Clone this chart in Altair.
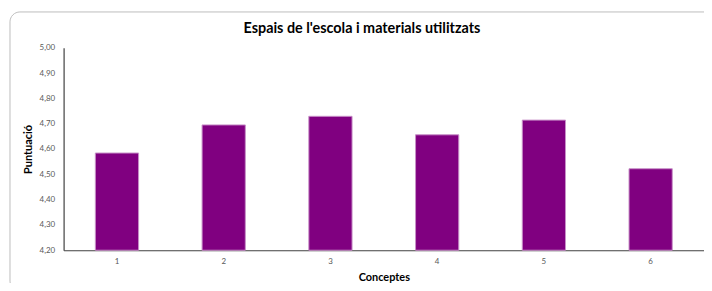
import altair as alt
import pandas as pd

categories = ["1", "2", "3", "4", "5", "6"]
values = [4.584, 4.695, 4.729, 4.656, 4.714, 4.522]
y_ticks = [4.2, 4.3, 4.4, 4.5, 4.6, 4.7, 4.8, 4.9, 5.0]

df = pd.DataFrame({"Conceptes": categories, "Puntuacio": values})

FONT = "Lato"

border = alt.Chart(pd.DataFrame({"a": [0]})).mark_rect(
    fill=None, stroke="#bdbdbd", strokeWidth=1, cornerRadius=10, clip=False
).encode(
    x=alt.value(-54), x2=alt.value(720), y=alt.value(-36), y2=alt.value(245)
)

bars = alt.Chart(df).mark_bar(
    color="#800080", stroke="#c890c8", strokeWidth=1
).encode(
    x=alt.X("Conceptes:N", sort=categories,
            scale=alt.Scale(paddingInner=0.595, paddingOuter=0.2975),
            axis=alt.Axis(title="Conceptes", labelAngle=0, ticks=False,
                          labelPadding=7, titlePadding=6)),
    y=alt.Y("Puntuacio:Q", scale=alt.Scale(domain=[4.2, 5.0], zero=False, nice=False),
            axis=alt.Axis(title="Puntuació", values=y_ticks, ticks=False, grid=False,
                          labelExpr="replace(format(datum.value, '.2f'), '.', ',')",
                          labelPadding=9, titlePadding=6)),
    y2=alt.datum(4.2),
)

chart = alt.layer(border, bars).properties(
    width=645, height=204,
    title=alt.TitleParams("Espais de l'escola i materials utilitzats", fontSize=14.5,
                          font=FONT, fontWeight="bold", color="#000000",
                          anchor="middle", dx=-22, offset=8, dy=33),
    autosize=alt.AutoSizeParams(type="none"),
    padding={"left": 56, "top": 39, "right": 0, "bottom": 32},
).configure_view(stroke=None).configure_axis(
    labelFont=FONT, titleFont=FONT, labelFontSize=8, labelColor="#595959",
    titleFontSize=11, titleFontWeight="bold", titleColor="#000000",
    domainColor="#404040", domainWidth=1.2,
)

chart.save("out.html", embed_options={"renderer": "svg", "actions": False})
